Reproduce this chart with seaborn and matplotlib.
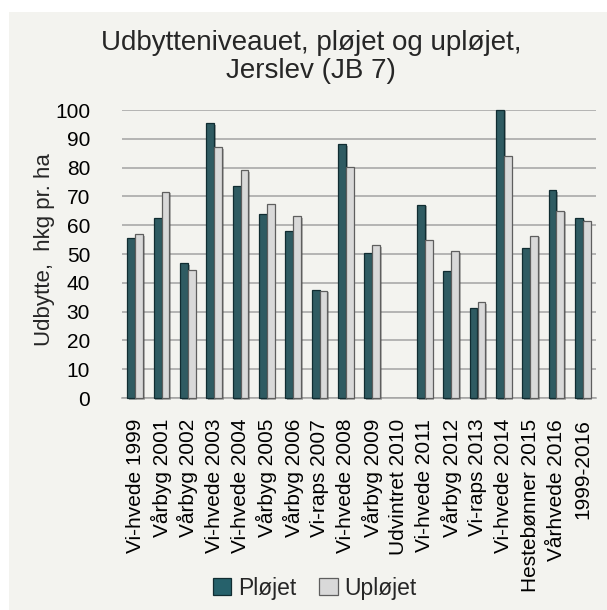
import numpy as np
import pandas as pd
import matplotlib
matplotlib.use("Agg")
import matplotlib.pyplot as plt
import matplotlib.patheffects as pe
from matplotlib.patches import Rectangle
import seaborn as sns

categories = ["Vi-hvede 1999", "Vårbyg 2001", "Vårbyg 2002", "Vi-hvede 2003",
              "Vi-hvede 2004", "Vårbyg 2005", "Vårbyg 2006", "Vi-raps 2007",
              "Vi-hvede 2008", "Vårbyg 2009", "Udvintret 2010", "Vi-hvede 2011",
              "Vårbyg 2012", "Vi-raps 2013", "Vi-hvede 2014", "Hestebønner 2015",
              "Vårhvede 2016", "1999-2016"]
plojet = [55.7, 62.4, 46.9, 95.5, 73.6, 63.8, 57.9, 37.6, 88.1, 50.5, np.nan,
          67.1, 44.2, 31.2, 100.1, 52.0, 72.1, 62.4]
uplojet = [56.9, 71.7, 44.4, 87.1, 79.1, 67.3, 63.2, 37.3, 80.3, 53.1, np.nan,
           54.8, 51.0, 33.3, 83.9, 56.4, 65.1, 61.4]
series = ["Pløjet", "Upløjet"]
yticks = list(range(0, 101, 10))

df = pd.DataFrame({
    "Kategori": categories * 2,
    "Serie": [series[0]] * len(categories) + [series[1]] * len(categories),
    "Udbytte": plojet + uplojet,
})

sns.set_theme(style="white")
plt.rcParams["font.family"] = ["Liberation Sans", "DejaVu Sans"]

fig = plt.figure(figsize=(6.07, 6.10), dpi=100, facecolor="white")
fig.patches.append(Rectangle((9 / 607, 0), 1, 1 - 12 / 610, transform=fig.transFigure,
                             facecolor="#f3f3ef", edgecolor="none", zorder=-10))
ax = fig.add_axes([122 / 607, 1 - 398 / 610, (596 - 122) / 607, (398 - 110) / 610])
ax.set_facecolor("none")

colors = {"Pløjet": "#26616b", "Upløjet": "#d9d9d9"}
edges = {"Pløjet": "#102c31", "Upløjet": "#5e5e5e"}
sns.barplot(data=df, x="Kategori", y="Udbytte", hue="Serie", order=categories,
            hue_order=series, palette=colors, width=0.6, gap=0, ax=ax,
            legend=False, zorder=3)

for cont, s in zip(ax.containers, series):
    for bar in cont:
        bar.set_edgecolor(edges[s])
        bar.set_linewidth(0.9)
        bar.set_clip_on(False)
        bar.set_path_effects([pe.SimplePatchShadow(offset=(1.2, -1.2), alpha=0.35),
                              pe.Normal()])

ax.set_ylim(0, 100)
ax.set_xlim(-0.5, len(categories) - 0.5)
ax.set_yticks(yticks)
ax.set_yticklabels([str(v) for v in yticks], fontsize=15, color="#000000")
ax.yaxis.grid(True, color="#a3a3a3", linewidth=1.1, zorder=0)
ax.set_axisbelow(True)
ax.tick_params(axis="y", length=0, pad=23)

ax.set_xticks(range(len(categories)))
ax.set_xticklabels(categories, rotation=90, fontsize=15, color="#000000")
ax.tick_params(axis="x", which="major", length=0, pad=15)
ax.set_xticks(np.arange(-0.5, len(categories)), minor=True)
ax.tick_params(axis="x", which="minor", length=6, width=1, color="#a3a3a3", direction="out")

for sp in ["left", "top", "right"]:
    ax.spines[sp].set_visible(False)
ax.spines["bottom"].set_color("#a3a3a3")
ax.spines["bottom"].set_linewidth(1.1)

ax.set_xlabel("")
ax.set_ylabel("")
fig.text(45 / 607, 1 - 250 / 610, "Udbytte,  hkg pr. ha", rotation=90,
         ha="center", va="center", fontsize=16)
fig.text(311 / 607, 1 - 57 / 610, "Udbytteniveauet, pløjet og upløjet,\nJerslev (JB 7)",
         ha="center", va="center", fontsize=20, linespacing=1.15)

handles = [Rectangle((0, 0), 1, 1, facecolor=colors[s], edgecolor=edges[s], linewidth=0.9)
           for s in series]
fig.legend(handles, series, loc="center", bbox_to_anchor=(315 / 607, 1 - 588 / 610),
           ncol=2, frameon=False, fontsize=16.5, handlelength=0.8, handleheight=0.8,
           handletextpad=0.3, columnspacing=1.0)

fig.savefig("out.png", dpi=100, facecolor=fig.get_facecolor())
